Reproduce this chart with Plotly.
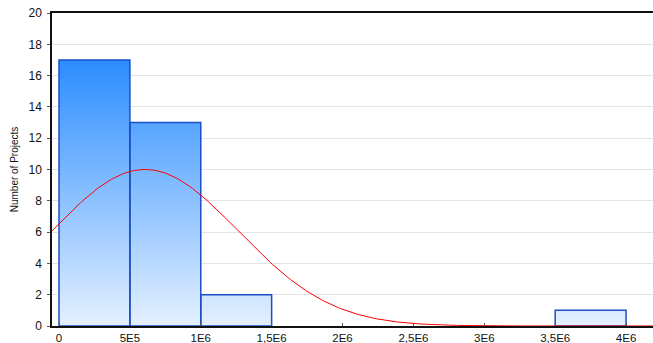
import numpy as np
import plotly.graph_objects as go

# Histogram of project sizes (bin width 5E5)
bin_edges = [0, 5e5, 1e6, 1.5e6, 2e6, 2.5e6, 3e6, 3.5e6, 4e6]
counts = [17, 13, 2, 0, 0, 0, 0, 1]

# Fitted normal curve parameters
fit_mean = 6.07e5
fit_sd = 6.58e5

tick_vals = [0, 5e5, 1e6, 1.5e6, 2e6, 2.5e6, 3e6, 3.5e6, 4e6]
tick_text = ["0", "5E5", "1E6", "1,5E6", "2E6", "2,5E6", "3E6", "3,5E6", "4E6"]
y_ticks = list(range(0, 21, 2))

width = bin_edges[1] - bin_edges[0]
n_total = sum(counts)

# stepped outline used for the gradient fill
sx, sy = [], []
for i, c in enumerate(counts):
    x0, x1 = bin_edges[i], bin_edges[i + 1]
    sx += [x0, x0, x1, x1]
    sy += [0, c, c, 0]

# closed rectangles for the bar borders
ox, oy = [], []
for i, c in enumerate(counts):
    if c <= 0:
        continue
    x0, x1 = bin_edges[i], bin_edges[i + 1]
    ox += [x0, x0, x1, x1, x0, None]
    oy += [0, c, c, 0, 0, None]

fig = go.Figure()

fig.add_trace(go.Scatter(
    x=sx, y=sy, mode="lines", line=dict(width=0),
    fill="tozeroy",
    fillgradient=dict(type="vertical",
                      colorscale=[[0, "#e4f0ff"], [1, "#2b8dff"]],
                      start=0, stop=max(counts)),
    hoverinfo="skip", showlegend=False,
))

fig.add_trace(go.Scatter(
    x=ox, y=oy, mode="lines",
    line=dict(color="#1d4fc4", width=1.5),
    hoverinfo="skip", showlegend=False,
))

xs = np.linspace(-5e4, 4.2e6, 400)
ys = n_total * width / (fit_sd * np.sqrt(2 * np.pi)) * np.exp(-0.5 * ((xs - fit_mean) / fit_sd) ** 2)
fig.add_trace(go.Scatter(x=xs, y=ys, mode="lines",
                         line=dict(color="#ff0000", width=1), showlegend=False))

fig.update_layout(
    width=653, height=343,
    margin=dict(l=52, r=0, t=13, b=17),
    plot_bgcolor="white", paper_bgcolor="white",
    font=dict(family="Liberation Sans, Arial, sans-serif", size=12, color="#111"),
)
fig.update_xaxes(
    range=[-4.94e4, 4.19e6], tickvals=tick_vals, ticktext=tick_text,
    showgrid=False, zeroline=False, automargin=False,
    showline=True, linecolor="#111", linewidth=1.5, mirror=True,
    ticks="inside", ticklen=3, tickcolor="#555", ticklabelstandoff=0,
    tickfont=dict(size=11.5),
)
fig.update_yaxes(
    range=[0, 20], tickvals=y_ticks, automargin=False,
    showgrid=True, gridcolor="#e4e4e4", gridwidth=1, zeroline=False,
    showline=True, linecolor="#111", linewidth=1.5,
    ticks="outside", ticklen=3, tickcolor="#555", ticklabelstandoff=3,
    tickfont=dict(size=12),
    title=dict(text="Number of Projects", standoff=8,
               font=dict(family="Liberation Sans Narrow, Arial Narrow, Liberation Sans, sans-serif", size=10)),
)

fig.write_html("out.html")
